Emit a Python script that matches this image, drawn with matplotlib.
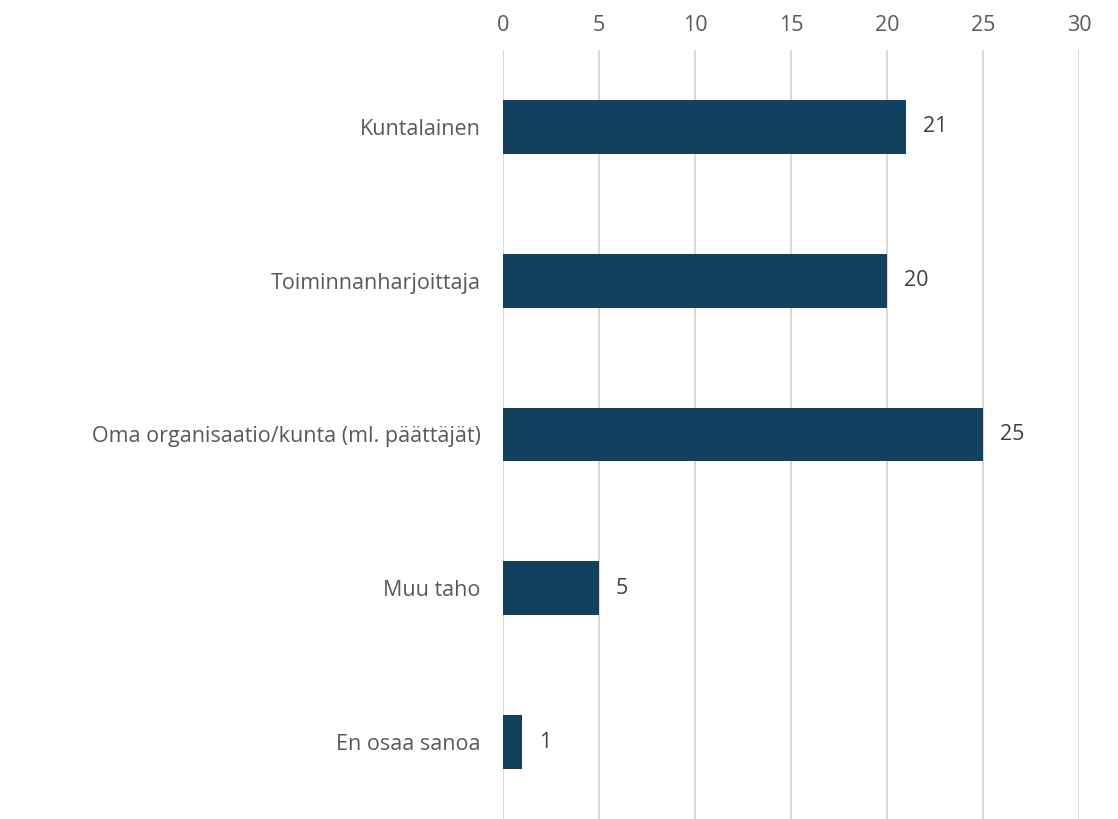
import matplotlib
matplotlib.use('Agg')
import matplotlib.pyplot as plt

categories = ["Kuntalainen", "Toiminnanharjoittaja",
              "Oma organisaatio/kunta (ml. päättäjät)", "Muu taho", "En osaa sanoa"]
values = [21, 20, 25, 5, 1]
x_ticks = [0, 5, 10, 15, 20, 25, 30]

plt.rcParams['font.family'] = ['Open Sans', 'DejaVu Sans']

fig = plt.figure(figsize=(11.18, 8.19), dpi=100)
ax = fig.add_axes([0.4499, 0.0, 0.5152, 0.939])

ypos = list(range(len(categories)))
ax.barh(ypos, values, height=0.35, color="#12415f", zorder=3)
for y, v in zip(ypos, values):
    ax.annotate(str(v), xy=(v, y), xytext=(12, 0), textcoords="offset points",
                ha="left", va="center", fontsize=15.5, color="#404040")

ax.set_xlim(0, 30)
ax.set_ylim(len(categories) - 0.5, -0.5)
ax.set_xticks(x_ticks)
ax.set_yticks(ypos)
ax.set_yticklabels(categories)
ax.xaxis.tick_top()
ax.tick_params(axis="x", length=0, pad=10, labelsize=15.5, labelcolor="#595959")
ax.tick_params(axis="y", length=0, pad=16, labelsize=15.5, labelcolor="#595959")
ax.grid(axis="x", color="#d9d9d9", linewidth=1.5, zorder=0)
for s in ax.spines.values():
    s.set_visible(False)

fig.savefig("out.png", dpi=100)
